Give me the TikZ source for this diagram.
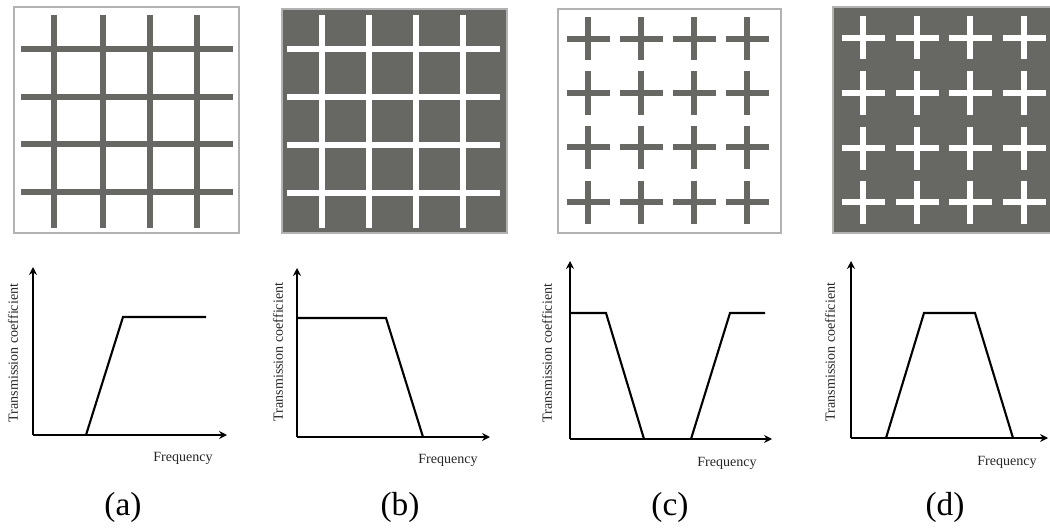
\documentclass[tikz,border=0pt]{standalone}
\usepackage{fontspec}
\setmainfont{Liberation Serif}
\usetikzlibrary{arrows.meta}
\definecolor{metal}{RGB}{103,104,100}
\tikzset{
  panel/.style={draw=gray!60, line width=0.6pt},
  bar/.style={line width=0.11cm},
  arm/.style={line width=0.12cm},
  axis/.style={line width=0.9pt, -{Stealth[length=4.5pt,width=4.5pt]}},
  curve/.style={line width=1.2pt, line join=miter},
  axlabel/.style={font=\fontsize{8}{9}\selectfont, text=black!85, inner sep=0pt},
  caption/.style={font=\fontsize{19}{21}\selectfont, inner sep=0pt}
}

\begin{document}
\begin{tikzpicture}[x=0.02cm, y=-0.02cm]
\useasboundingbox (0,0) rectangle (1050,527);

% Rejilla (a)
\draw[panel, fill=white] (14,7) rectangle (239,233);
\foreach \x in {54,103,150,197} \draw[bar, metal] (\x,15) -- (\x,228);
\foreach \y in {49,97,144,192} \draw[bar, metal] (21,\y) -- (233,\y);

% Rejilla (b)
\draw[panel, fill=metal] (282,9) rectangle (507,233);
\foreach \x in {322,369,416,463} \draw[bar, white] (\x,15) -- (\x,228);
\foreach \y in {49,97,145,193} \draw[bar, white] (287,\y) -- (500,\y);

% Cruces (c)
\draw[panel, fill=white] (558,9) rectangle (781,233);
\foreach \x in {588,641,694,747}
  \foreach \y in {39,93,147,202}
    \draw[arm, metal] (\x-21.5,\y) -- (\x+21.5,\y) (\x,\y-21.5) -- (\x,\y+21.5);

% Cruces (d)
\fill[metal] (833,7) rectangle (1050,233);
\draw[panel] (1050,7) -- (833,7) -- (833,233) -- (1050,233);
\foreach \x in {863,917,970,1024}
  \foreach \y in {38,93,148,202}
    \draw[arm, white] (\x-21.5,\y) -- (\x+21.5,\y) (\x,\y-21.5) -- (\x,\y+21.5);

% Curva (a)
\coordinate (ao) at (33,435);
\coordinate (ay) at (33,267);
\coordinate (ax) at (227,435);
\draw[axis] (ao) -- (ay);
\draw[axis] (ao) -- (ax);
\draw[curve] (86,435) -- (123,317) -- (206,317);
\node[axlabel, rotate=90] (ya) at (13,353) {Transmission coefficient};
\node[axlabel] (xa) at (183,458) {Frequency};
\node[caption] (capa) at (123,507) {(a)};

% Curva (b)
\coordinate (bo) at (297,437);
\coordinate (by) at (297,268);
\coordinate (bx) at (490,437);
\draw[axis] (bo) -- (by);
\draw[axis] (bo) -- (bx);
\draw[curve] (297,318) -- (386,318) -- (423,437);
\node[axlabel, rotate=90] (yb) at (278,352) {Transmission coefficient};
\node[axlabel] (xb) at (448,460) {Frequency};
\node[caption] (capb) at (400,507) {(b)};

% Curva (c)
\coordinate (co) at (570,439);
\coordinate (cy) at (570,261);
\coordinate (cx) at (772,439);
\draw[axis] (co) -- (cy);
\draw[axis] (co) -- (cx);
\draw[curve] (570,313) -- (606,313) -- (644,439) (691,439) -- (730,313) -- (765,313);
\node[axlabel, rotate=90] (yc) at (547,353) {Transmission coefficient};
\node[axlabel] (xc) at (727,463) {Frequency};
\node[caption] (capc) at (670,507) {(c)};

% Curva (d)
\coordinate (do) at (851,438);
\coordinate (dy) at (851,261);
\coordinate (dx) at (1048,438);
\draw[axis] (do) -- (dy);
\draw[axis] (do) -- (dx);
\draw[curve] (886,438) -- (924,313) -- (975,313) -- (1013,438);
\node[axlabel, rotate=90] (yd) at (830,352) {Transmission coefficient};
\node[axlabel] (xd) at (1007,462) {Frequency};
\node[caption] (capd) at (945,507) {(d)};

\end{tikzpicture}
\end{document}
